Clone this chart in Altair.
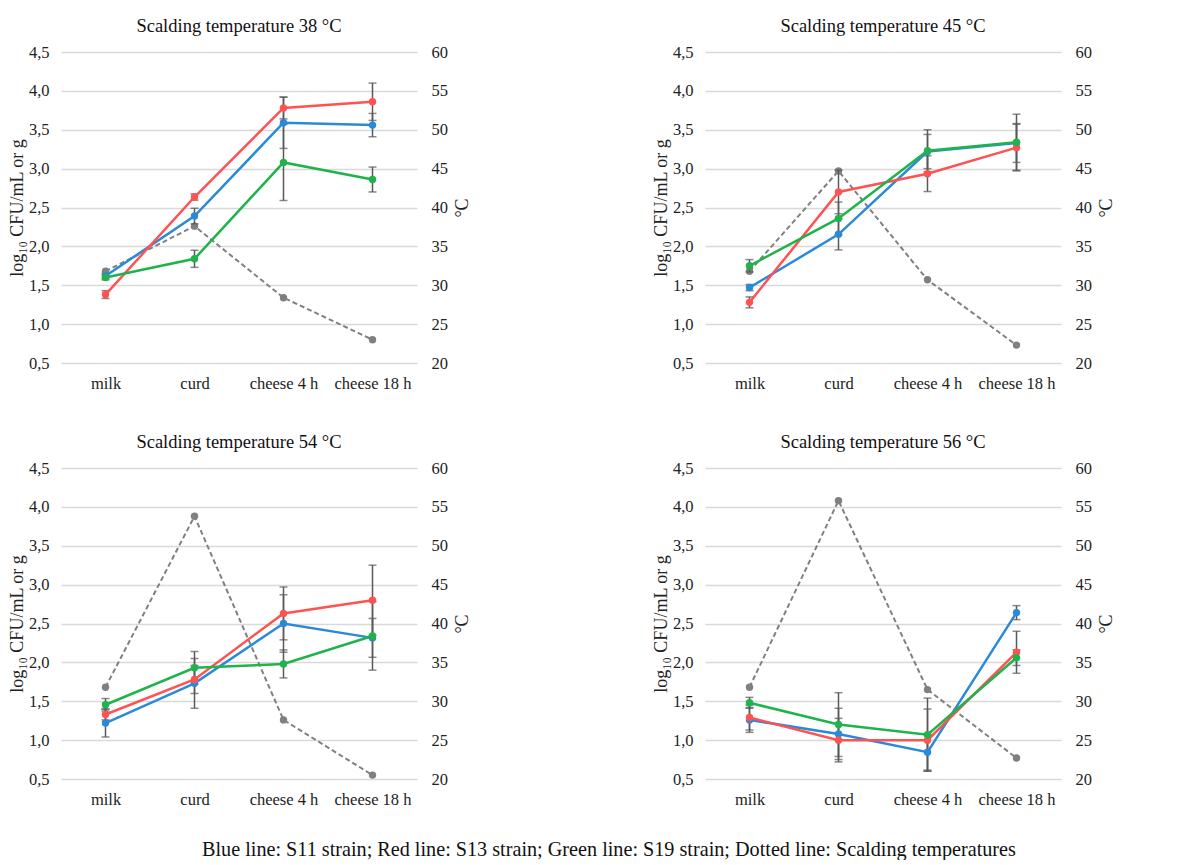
import altair as alt
import pandas as pd

stages = ["milk", "curd", "cheese 4 h", "cheese 18 h"]
panel_temps = ["38", "45", "54", "56"]
strains = ["S11", "S13", "S19"]
strain_colors = ["#2a8ad8", "#ff5252", "#1eb34b"]

# 38 °C
s11_38 = [1.62, 2.39, 3.59, 3.56]
s11_38_err = [0.03, 0.10, 0.33, 0.15]
s13_38 = [1.38, 2.635, 3.78, 3.86]
s13_38_err = [0.05, 0.04, 0.14, 0.24]
s19_38 = [1.60, 1.84, 3.08, 2.86]
s19_38_err = [0.03, 0.11, 0.49, 0.16]
temp_38 = [31.8, 37.6, 28.4, 23.0]

# 45 °C
s11_45 = [1.47, 2.155, 3.22, 3.33]
s11_45_err = [0.04, 0.20, 0.22, 0.25]
s13_45 = [1.28, 2.70, 2.935, 3.27]
s13_45_err = [0.07, 0.28, 0.23, 0.30]
s19_45 = [1.75, 2.36, 3.23, 3.34]
s19_45_err = [0.08, 0.21, 0.27, 0.36]
temp_45 = [31.8, 44.7, 30.7, 22.3]

# 54 °C
s11_54 = [1.22, 1.73, 2.50, 2.315]
s11_54_err = [0.18, 0.32, 0.37, 0.25]
s13_54 = [1.33, 1.78, 2.63, 2.80]
s13_54_err = [0.07, 0.18, 0.34, 0.45]
s19_54 = [1.455, 1.93, 1.98, 2.34]
s19_54_err = [0.08, 0.21, 0.18, 0.44]
temp_54 = [31.8, 53.8, 27.6, 20.5]

# 56 °C
s11_56 = [1.26, 1.08, 0.845, 2.64]
s11_56_err = [0.16, 0.33, 0.23, 0.09]
s13_56 = [1.29, 1.00, 1.00, 2.13]
s13_56_err = [0.16, 0.28, 0.40, 0.27]
s19_56 = [1.48, 1.20, 1.07, 2.06]
s19_56_err = [0.07, 0.41, 0.47, 0.10]
temp_56 = [31.8, 55.8, 31.5, 22.7]

left_ticks = [0.5, 1.0, 1.5, 2.0, 2.5, 3.0, 3.5, 4.0, 4.5]
right_ticks = [20, 25, 30, 35, 40, 45, 50, 55, 60]
footer = "Blue line: S11 strain; Red line: S13 strain; Green line: S19 strain; Dotted line: Scalding temperatures"

series = {
    "38": [(s11_38, s11_38_err), (s13_38, s13_38_err), (s19_38, s19_38_err)],
    "45": [(s11_45, s11_45_err), (s13_45, s13_45_err), (s19_45, s19_45_err)],
    "54": [(s11_54, s11_54_err), (s13_54, s13_54_err), (s19_54, s19_54_err)],
    "56": [(s11_56, s11_56_err), (s13_56, s13_56_err), (s19_56, s19_56_err)],
}
temps = {"38": temp_38, "45": temp_45, "54": temp_54, "56": temp_56}

FONT = "Liberation Serif"
W, H = 356, 311
TXT = "#222222"


def panel(p):
    rows = []
    for strain, (vals, errs) in zip(strains, series[p]):
        for st, v, e in zip(stages, vals, errs):
            rows.append({"stage": st, "strain": strain, "value": v,
                         "lo": v - e, "hi": v + e})
    df = pd.DataFrame(rows)
    tdf = pd.DataFrame({"stage": stages, "temp": temps[p]})

    x = alt.X("stage:N", sort=stages, scale=alt.Scale(type="point", padding=0.5),
              axis=alt.Axis(title=None, domain=False, ticks=False, labelAngle=0,
                            labelPadding=12, labelFont=FONT, labelFontSize=16.5,
                            labelColor=TXT))
    yscale = alt.Scale(domain=[0.5, 4.5], nice=False, zero=False)
    yaxis = alt.Axis(values=left_ticks, tickCount=9, labelOverlap=False,
                     grid=True, gridColor="#d9d9d9", gridWidth=1.5,
                     domain=False, ticks=False, labelPadding=12,
                     labelExpr="replace(format(datum.value, '.1f'), '.', ',')",
                     labelFont=FONT, labelFontSize=16.5, labelColor=TXT,
                     title="log₁₀ CFU/mL or g", titleFont=FONT, titleFontSize=18,
                     titleFontWeight="normal", titleColor=TXT, titlePadding=2)
    color = alt.Color("strain:N", scale=alt.Scale(domain=strains, range=strain_colors), legend=None)

    base = alt.Chart(df)
    err_rule = base.mark_rule(color="#595959", strokeWidth=1.5).encode(
        x=x, y=alt.Y("lo:Q", scale=yscale, axis=yaxis), y2="hi:Q")
    cap_lo = base.mark_tick(color="#595959", size=8, thickness=1.5, orient="horizontal").encode(
        x=x, y=alt.Y("lo:Q", scale=yscale, axis=yaxis))
    cap_hi = base.mark_tick(color="#595959", size=8, thickness=1.5, orient="horizontal").encode(
        x=x, y=alt.Y("hi:Q", scale=yscale, axis=yaxis))
    lines = base.mark_line(strokeWidth=2.5).encode(
        x=x, y=alt.Y("value:Q", scale=yscale, axis=yaxis), color=color, detail="strain:N")
    pts = base.mark_point(filled=True, size=55, opacity=1).encode(
        x=x, y=alt.Y("value:Q", scale=yscale, axis=yaxis), color=color)

    left = alt.layer(err_rule, cap_lo, cap_hi, lines, pts)

    tscale = alt.Scale(domain=[20, 60], nice=False, zero=False)
    taxis = alt.Axis(values=right_ticks, tickCount=9, labelOverlap=False,
                     orient="right", grid=False, domain=False, ticks=False,
                     labelPadding=14, labelFont=FONT, labelFontSize=16.5, labelColor=TXT,
                     title="°C", titleFont=FONT, titleFontSize=18, titleFontWeight="normal",
                     titleColor=TXT, titleAngle=270, titleBaseline="top", titlePadding=6)
    tbase = alt.Chart(tdf)
    tline = tbase.mark_line(color="#808080", strokeWidth=2, strokeDash=[5, 3]).encode(
        x=x, y=alt.Y("temp:Q", scale=tscale, axis=taxis))
    tpts = tbase.mark_point(filled=True, size=55, color="#808080", opacity=1).encode(
        x=x, y=alt.Y("temp:Q", scale=tscale, axis=taxis))
    right = alt.layer(tline, tpts)

    return alt.layer(right, left).resolve_scale(y="independent").properties(
        width=W, height=H,
        title=alt.TitleParams(f"Scalding temperature {p} °C", font=FONT, fontSize=18.5,
                              fontWeight="normal", color="#111111", frame="group",
                              anchor="middle", offset=9))


row1 = alt.hconcat(panel("38"), panel("45"), spacing=180)
row2 = alt.hconcat(panel("54"), panel("56"), spacing=180)
chart = alt.vconcat(row1, row2, spacing=40).properties(
    title=alt.TitleParams(footer, orient="bottom", font=FONT, fontSize=20.2,
                          fontWeight="normal", color="#111111", anchor="middle",
                          offset=32, dx=47),
    padding={"left": 0, "top": 8, "right": 0, "bottom": 0},
).configure_view(stroke=None)

chart.save("out.html", embed_options={"renderer": "svg", "actions": False})
